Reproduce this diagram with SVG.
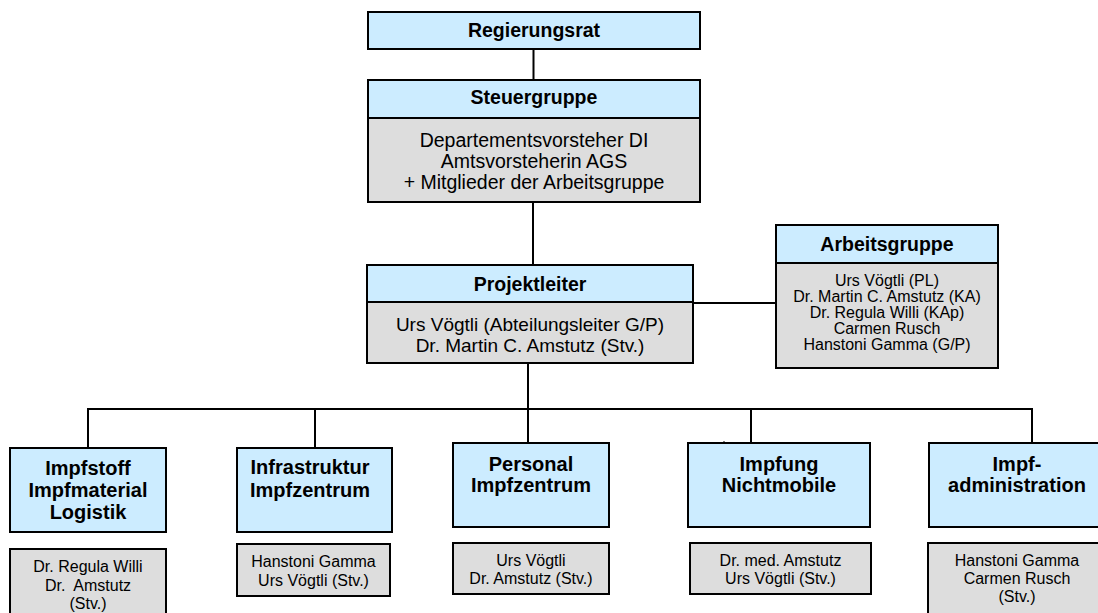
<svg xmlns="http://www.w3.org/2000/svg" width="1098" height="613" viewBox="0 0 1098 613">
<style>
.hd{fill:#CCECFF;stroke:#000;stroke-width:2}
.bd{fill:#DDDDDD;stroke:#000;stroke-width:2}
.t{font-family:"Liberation Sans",Arial,sans-serif;text-anchor:middle;fill:#000}
.b{font-weight:bold;font-size:19.5px}
.bb{font-weight:bold;font-size:20px}
.r{font-size:19.5px}
.p{font-size:19px}
.s{font-size:16px}
.c{stroke:#000;stroke-width:2;fill:none}
</style>
<rect width="1098" height="613" fill="#fff"/>
<g id="connectors">
<line class="c" x1="533.5" y1="49" x2="533.5" y2="80"/>
<line class="c" x1="533" y1="202" x2="533" y2="265"/>
<line class="c" x1="693" y1="303" x2="776" y2="303"/>
<line class="c" x1="528" y1="363" x2="528" y2="409"/>
<line class="c" x1="88" y1="409" x2="1032" y2="409"/>
<line class="c" x1="88" y1="408" x2="88" y2="448"/>
<line class="c" x1="315" y1="408" x2="315" y2="448"/>
<line class="c" x1="528" y1="408" x2="528" y2="443"/>
<line class="c" x1="751" y1="408" x2="751" y2="443"/>
<line class="c" x1="1032" y1="408" x2="1032" y2="443"/>
<line x1="724" y1="441" x2="724" y2="443" stroke="#000" stroke-width="1"/>
</g>
<g id="regierungsrat">
<rect class="hd" x="368" y="12" width="332" height="37"/>
<text class="t b" x="534" y="37">Regierungsrat</text>
</g>
<g id="steuergruppe">
<rect class="hd" x="368" y="80" width="332" height="38"/>
<text class="t b" x="534" y="104">Steuergruppe</text>
<rect class="bd" x="368" y="118" width="332" height="84"/>
<text class="t r" x="534" y="147">Departementsvorsteher DI</text>
<text class="t r" x="534" y="168">Amtsvorsteherin AGS</text>
<text class="t r" x="534" y="189">+ Mitglieder der Arbeitsgruppe</text>
</g>
<g id="projektleiter">
<rect class="hd" x="367" y="265" width="326" height="37"/>
<text class="t b" x="530" y="291">Projektleiter</text>
<rect class="bd" x="367" y="302" width="326" height="61"/>
<text class="t p" x="530" y="331">Urs Vögtli (Abteilungsleiter G/P)</text>
<text class="t p" x="530" y="352">Dr. Martin C. Amstutz (Stv.)</text>
</g>
<g id="arbeitsgruppe">
<rect class="hd" x="776" y="225" width="222" height="38"/>
<text class="t b" x="887" y="251">Arbeitsgruppe</text>
<rect class="bd" x="776" y="263" width="222" height="105"/>
<text class="t s" x="887" y="286">Urs Vögtli (PL)</text>
<text class="t s" x="887" y="302">Dr. Martin C. Amstutz (KA)</text>
<text class="t s" x="887" y="318">Dr. Regula Willi (KAp)</text>
<text class="t s" x="887" y="334">Carmen Rusch</text>
<text class="t s" x="887" y="350">Hanstoni Gamma (G/P)</text>
</g>
<g id="impfstoff">
<rect class="hd" x="10" y="448" width="156" height="84"/>
<text class="t bb" x="88" y="475">Impfstoff</text>
<text class="t bb" x="88" y="497">Impfmaterial</text>
<text class="t bb" x="88" y="519">Logistik</text>
<rect class="bd" x="10" y="549" width="156" height="70"/>
<text class="t s" x="88" y="572">Dr. Regula Willi</text>
<text class="t s" x="88" y="590.5">Dr.&#160; Amstutz</text>
<text class="t s" x="88" y="609">(Stv.)</text>
</g>
<g id="infrastruktur">
<rect class="hd" x="237" y="448" width="155" height="84"/>
<text class="t bb" x="310" y="474">Infrastruktur</text>
<text class="t bb" x="310" y="496.5">Impfzentrum</text>
<rect class="bd" x="237" y="544" width="153" height="52"/>
<text class="t s" x="313.5" y="567">Hanstoni Gamma</text>
<text class="t s" x="313.5" y="585.5">Urs Vögtli (Stv.)</text>
</g>
<g id="personal">
<rect class="hd" x="453" y="443" width="156" height="84"/>
<text class="t bb" x="531" y="471">Personal</text>
<text class="t bb" x="531" y="492">Impfzentrum</text>
<rect class="bd" x="453" y="543" width="156" height="51"/>
<text class="t s" x="531" y="566">Urs Vögtli</text>
<text class="t s" x="531" y="584">Dr. Amstutz (Stv.)</text>
</g>
<g id="impfung">
<rect class="hd" x="688" y="443" width="182" height="84"/>
<text class="t bb" x="779" y="471">Impfung</text>
<text class="t bb" x="779" y="492">Nichtmobile</text>
<rect class="bd" x="690" y="543" width="181" height="51"/>
<text class="t s" x="780.5" y="566">Dr. med. Amstutz</text>
<text class="t s" x="780.5" y="584">Urs Vögtli (Stv.)</text>
</g>
<g id="impfadministration">
<rect class="hd" x="929" y="443" width="175" height="84"/>
<text class="t bb" x="1017" y="471">Impf-</text>
<text class="t bb" x="1017" y="492">administration</text>
<rect class="bd" x="928" y="543" width="176" height="75"/>
<text class="t s" x="1017" y="566">Hanstoni Gamma</text>
<text class="t s" x="1017" y="584">Carmen Rusch</text>
<text class="t s" x="1017" y="602">(Stv.)</text>
</g>
</svg>
